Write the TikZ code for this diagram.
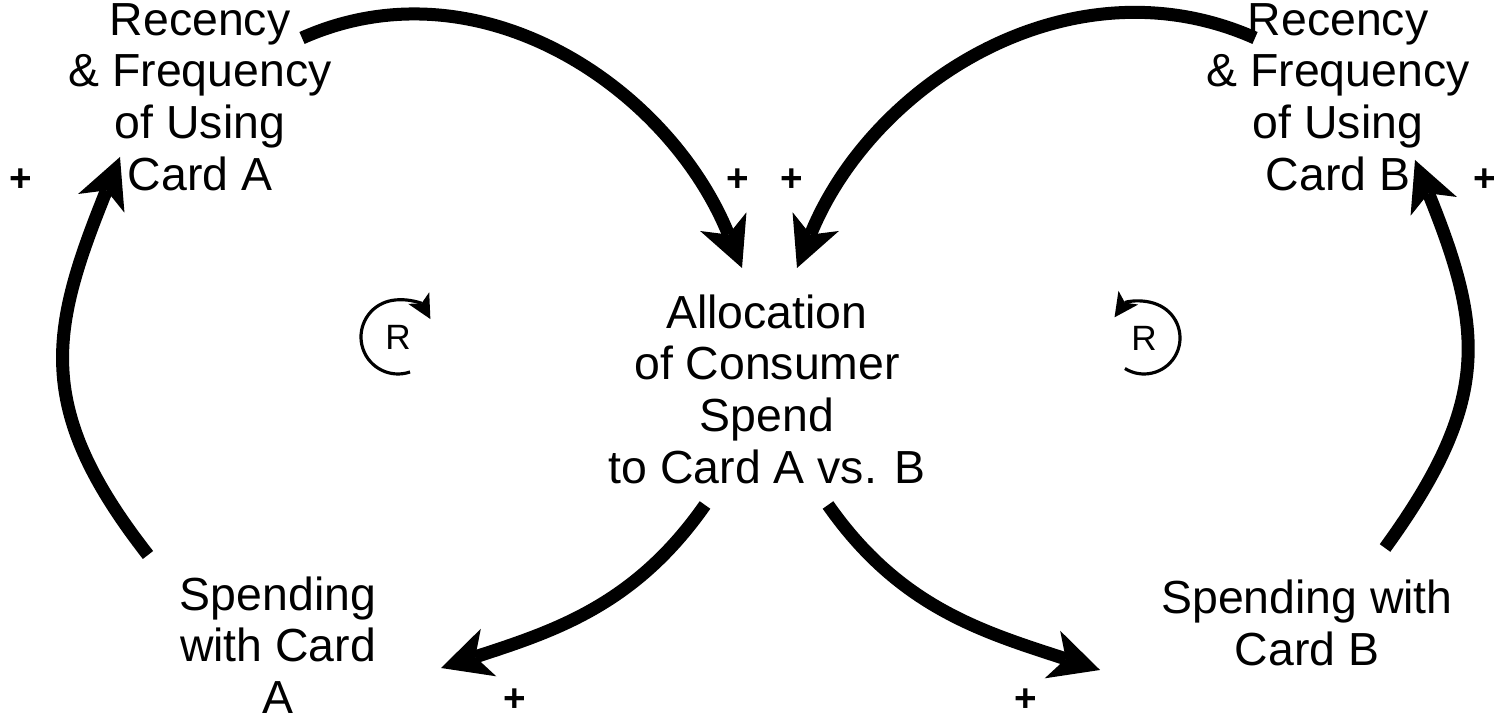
\documentclass[tikz,border=0pt]{standalone}
\usepackage{fontspec}
\setmainfont{Liberation Sans}
\usetikzlibrary{arrows.meta}

\begin{document}
\begin{tikzpicture}
			[var/.style={align=center,inner sep=0pt,font=\fontsize{13.2}{14.7}\selectfont},
			link/.style={line width=3.7pt,-{Stealth[length=5mm,width=5mm,inset=1.4mm,line width=0pt]}},
			pol/.style={inner sep=0pt,font=\bfseries\fontsize{11}{13}\selectfont},
			loopmark/.style={line width=0.9pt,-{Stealth[length=2.4mm,width=2.4mm,inset=0.6mm,line width=0pt]}}]
			\useasboundingbox (0,0) rectangle (14.99,7.17);
			\node[var] (recA) at (2.00,6.20) {Recency\\\& Frequency\\of Using\\Card A};
			\node[var] (recB) at (13.38,6.20) {Recency\\\& Frequency\\of Using\\Card B};
			\node[var] (alloc) at (7.67,3.28) {Allocation\\of Consumer\\Spend\\to Card A vs. B};
			\node[var] (spA) at (2.78,0.72) {Spending\\with Card\\A};
			\node[var] (spB) at (13.07,0.94) {Spending with\\Card B};
			
			\draw[link] ([shift={(1.02,0.59)}]recA.center) to[out=24,in=112] ([shift={(-0.25,1.21)}]alloc.center);
			\draw[link] ([shift={(-0.83,0.59)}]recB.center) to[out=156,in=68] ([shift={(0.30,1.21)}]alloc.center);
			\draw[link] ([shift={(-1.30,0.90)}]spA.center) to[out=128,in=-112,looseness=1.2] ([shift={(-0.80,-0.60)}]recA.center);
			\draw[link] ([shift={(0.78,0.75)}]spB.center) to[out=54,in=-68,looseness=1.2] ([shift={(0.77,-0.63)}]recB.center);
			\draw[link] ([shift={(-0.62,-1.16)}]alloc.center) to[out=-125,in=18] ([shift={(1.63,-0.23)}]spA.center);
			\draw[link] ([shift={(0.61,-1.16)}]alloc.center) to[out=-55,in=162] ([shift={(-2.07,-0.47)}]spB.center);
			
			\node[pol] (p1) at (0.21,5.37) {+};
			\node[pol] (p2) at (7.38,5.37) {+};
			\node[pol] (p3) at (7.92,5.37) {+};
			\node[pol] (p4) at (14.85,5.37) {+};
			\node[pol] (p5) at (5.15,0.17) {+};
			\node[pol] (p6) at (10.26,0.17) {+};
			
			\node[font=\fontsize{10}{12}\selectfont] (loopA) at (3.98,3.80) {R};
			\node[font=\fontsize{10}{12}\selectfont] (loopB) at (11.44,3.79) {R};
			\draw[loopmark] ([shift={(289:0.37)}]loopA.center) arc[start angle=289,end angle=29,radius=0.37];
			\draw[loopmark] ([shift={(238:0.36)}]loopB.center) arc[start angle=-122,end angle=145,radius=0.36];
\end{tikzpicture}
\end{document}
